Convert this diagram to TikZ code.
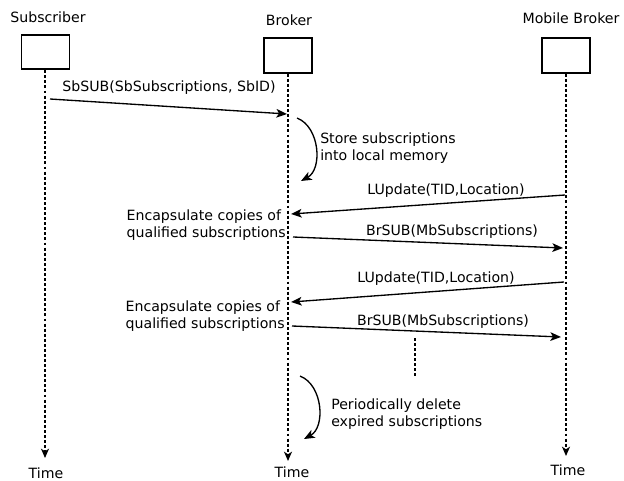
\documentclass[tikz,border=0pt]{standalone}
\usepackage{fontspec}
\setmainfont{DejaVu Sans}
\usetikzlibrary{arrows.meta, positioning}

\begin{document}
\begin{tikzpicture}[
    x=0.75pt, y=-0.75pt,
    font=\fontsize{10.6}{13.3}\selectfont,
    actor/.style={rectangle, draw, line width=1.4pt, minimum width=36pt, minimum height=26pt, inner sep=0pt},
    lifeline/.style={line width=1.2pt, dash pattern=on 2.2pt off 1.6pt, -{Stealth[length=7pt, width=6pt, inset=2pt]}},
    message/.style={line width=1pt, -{Stealth[length=8pt, width=6.5pt, inset=2pt]}},
    action/.style={line width=1pt, -{Stealth[length=8pt, width=6.5pt, inset=2pt]}},
    note/.style={align=left, inner sep=0pt}
]
\useasboundingbox (0,0) rectangle (624,481);

% Participants
\node (subName) at (48,17) {Subscriber};
\node (brkName) at (289,20) {Broker};
\node (mobName) at (571,18) {Mobile Broker};
\node[actor] (sub) at (45.5,52) {};
\node[actor] (brk) at (288,55.5) {};
\node[actor] (mob) at (566,55.5) {};

% Lifelines
\coordinate (subEnd) at (45,458);
\coordinate (brkEnd) at (288,461);
\coordinate (mobEnd) at (566,456);
\draw[lifeline] (sub.south -| subEnd) -- (subEnd);
\draw[lifeline] (brk.south -| brkEnd) -- (brkEnd);
\draw[lifeline] (mob.south -| mobEnd) -- (mobEnd);
\node (subTime) at (46,473) {Time};
\node (brkTime) at (292,472) {Time};
\node (mobTime) at (568,470) {Time};

% Message points
\coordinate (s1) at (50,99);
\coordinate (b1) at (287,114);
\coordinate (b2) at (297,118);
\coordinate (b3) at (301,181);
\coordinate (m1) at (565,195);
\coordinate (b4) at (291,214);
\coordinate (b5) at (293,237);
\coordinate (m2) at (563,248);
\coordinate (m3) at (564,282);
\coordinate (b6) at (291,302);
\coordinate (b7) at (292,326);
\coordinate (m4) at (561,337);
\coordinate (b8) at (300,376);
\coordinate (b9) at (304,439);
\coordinate (gapTop) at (415,338);
\coordinate (gapEnd) at (415,377);

% Messages
\draw[message] (s1) -- (b1);
\node (sbsub) at (169,88) {SbSUB(SbSubscriptions, SbID)};
\draw[action] (b2) to[bend left=65] (b3);
\node[note, anchor=west] (store) at (320,148) {Store subscriptions\\into local memory};
\draw[message] (m1) -- (b4);
\node (lup1) at (446,191) {LUpdate(TID,Location)};
\node[note, anchor=east] (enc1) at (286,225) {Encapsulate copies of\\qualified subscriptions};
\draw[message] (b5) -- (m2);
\node (brsub1) at (452,232) {BrSUB(MbSubscriptions)};
\draw[message] (m3) -- (b6);
\node (lup2) at (436,279) {LUpdate(TID,Location)};
\node[note, anchor=east] (enc2) at (285,316) {Encapsulate copies of\\qualified subscriptions};
\draw[message] (b7) -- (m4);
\node (brsub2) at (443,322) {BrSUB(MbSubscriptions)};
\draw[line width=1.2pt, dash pattern=on 2.2pt off 1.6pt] (gapTop) -- (gapEnd);
\draw[action] (b8) to[bend left=65] (b9);
\node[note, anchor=west] (purge) at (331,414) {Periodically delete\\expired subscriptions};

\end{tikzpicture}
\end{document}
